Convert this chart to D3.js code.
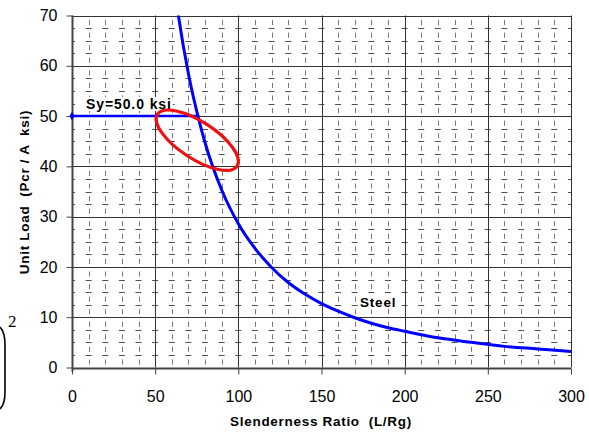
<!DOCTYPE html>
<html><head><meta charset="utf-8">
<script src="https://cdn.jsdelivr.net/npm/d3@7"></script>
<style>body{margin:0;background:#fff}svg{display:block}text{white-space:pre}</style>
</head><body>
<svg id="c" width="589" height="433"></svg>
<script>
// Data
const xTicks = [0, 50, 100, 150, 200, 250, 300];
const yTicks = [0, 10, 20, 30, 40, 50, 60, 70];
const curveX = [62, 64, 70, 76, 80, 90, 100, 110, 120, 130, 140, 150, 160, 170, 180, 190, 200, 220, 240, 260, 280, 300];
const curveY = [74.5, 69.9, 58.4, 49.6, 44.7, 35.3, 28.6, 23.7, 19.9, 16.9, 14.6, 12.7, 11.2, 9.9, 8.8, 7.9, 7.2, 5.9, 5.0, 4.2, 3.7, 3.2];
const yieldX = [0, 76.5];
const yieldY = [50, 50];
const yieldLabel = "Sy=50.0 ksi";
const curveLabel = "Steel";
const xTitle = "Slenderness Ratio  (L/Rg)";
const yTitle = "Unit Load  (Pcr / A  ksi)";
const ellipseCenter = [75.3, 45.2];

const svg = d3.select("#c");
const x = d3.scaleLinear().domain([0, 300]).range([72, 571]);
const y = d3.scaleLinear().domain([0, 70]).range([367.5, 15.5]);
const font = "'Liberation Sans', Arial, sans-serif";

svg.append("defs").append("clipPath").attr("id", "clip")
  .append("rect").attr("x", x(0)).attr("y", y(70)).attr("width", x(300) - x(0)).attr("height", y(0) - y(70));

// Minor grid: horizontal dashed every 2.5, vertical dashed every 10
const g = svg.append("g");
const minorY = d3.range(2.5, 70, 2.5).filter(v => Math.abs(v % 10) > 0.01);
const minorX = d3.range(10, 300, 10).filter(v => v % 50 !== 0);
g.selectAll("line.mh").data(minorY).join("line")
  .attr("x1", x(0)).attr("x2", x(300)).attr("y1", d => Math.round(y(d)) + 0.5).attr("y2", d => Math.round(y(d)) + 0.5)
  .attr("stroke", "#505050").attr("stroke-width", 1)
  .attr("stroke-dasharray", "6,10.63").attr("stroke-dashoffset", 3);
g.selectAll("line.mv").data(minorX).join("line")
  .attr("x1", d => Math.round(x(d)) + 0.5).attr("x2", d => Math.round(x(d)) + 0.5).attr("y1", y(0)).attr("y2", y(70))
  .attr("stroke", "#777").attr("stroke-width", 1)
  .attr("stroke-dasharray", "5,7.57").attr("stroke-dashoffset", -3);

// Major grid
g.selectAll("line.Mh").data(yTicks.slice(1)).join("line")
  .attr("x1", x(0)).attr("x2", x(300)).attr("y1", d => Math.round(y(d)) + 0.5).attr("y2", d => Math.round(y(d)) + 0.5)
  .attr("stroke", "#333").attr("stroke-width", 1);
g.selectAll("line.Mv").data(xTicks.slice(1)).join("line")
  .attr("x1", d => Math.round(x(d)) + 0.5).attr("x2", d => Math.round(x(d)) + 0.5).attr("y1", y(0)).attr("y2", y(70))
  .attr("stroke", "#333").attr("stroke-width", 1);

// Axes
const xa = svg.append("g").attr("transform", `translate(0,${Math.round(y(0)) + 0.5})`)
  .call(d3.axisBottom(x).tickValues(xTicks).tickSize(6).tickPadding(16).tickSizeOuter(0));
const ya = svg.append("g").attr("transform", `translate(${Math.round(x(0)) + 0.5},0)`)
  .call(d3.axisLeft(y).tickValues(yTicks).tickSize(6).tickPadding(9).tickSizeOuter(0));
[xa, ya].forEach(a => {
  a.select(".domain").attr("stroke", "#444").attr("stroke-width", 2);
  a.selectAll(".tick line").attr("stroke", "#444");
  a.selectAll("text").attr("font-family", font).attr("font-size", 16).attr("fill", "#000");
});
xa.select(".domain").attr("d", `M${x(0)},0H${x(300)}`);
ya.select(".domain").attr("d", `M0,${y(0) + 4}V${y(70)}`);

// Labels helper
const bold = (sel, size, ls) => sel.attr("font-family", font).attr("font-weight", "bold")
  .attr("font-size", size).attr("letter-spacing", ls);
function boxedLabel(txt, px, py, size, ls) {
  const grp = svg.append("g");
  const r = grp.append("rect").attr("fill", "#fff");
  const t = bold(grp.append("text").attr("x", px).attr("y", py).text(txt), size, ls);
  const b = t.node().getBBox();
  r.attr("x", b.x - 1).attr("y", b.y + 1).attr("width", b.width + 2).attr("height", b.height - 2);
  return grp;
}

// Curve
const line = d3.line().x(d => x(d[0])).y(d => y(d[1])).curve(d3.curveMonotoneX);
boxedLabel(curveLabel, 360, 307, 13.5, 0.8);
svg.append("path").attr("clip-path", "url(#clip)")
  .datum(curveX.map((v, i) => [v, curveY[i]]))
  .attr("d", line).attr("fill", "none").attr("stroke", "#0000ff").attr("stroke-width", 3);
boxedLabel(yieldLabel, 86, 109, 14, 0.9);
svg.append("path")
  .datum(yieldX.map((v, i) => [v, yieldY[i]]))
  .attr("d", d3.line().x(d => x(d[0])).y(d => y(d[1])))
  .attr("fill", "none").attr("stroke", "#0000ff").attr("stroke-width", 2.5);
svg.append("path").attr("d", d3.symbol(d3.symbolDiamond, 22)())
  .attr("transform", `translate(${x(0)},${y(50)})`).attr("fill", "#0000ff");

// Ellipse
svg.append("ellipse").attr("cx", 0).attr("cy", 0).attr("rx", 47.5).attr("ry", 18.5)
  .attr("transform", `translate(${x(ellipseCenter[0])},${y(ellipseCenter[1])}) rotate(33)`)
  .attr("fill", "none").attr("stroke", "#ee1111").attr("stroke-width", 3.2);

// Axis titles
bold(svg.append("text").attr("x", 321).attr("y", 426).attr("text-anchor", "middle").text(xTitle), 13.5, 0.7);
bold(svg.append("text").attr("transform", "translate(29,192) rotate(-90)").attr("text-anchor", "middle").text(yTitle), 13.5, 0.7);

// Fragment at bottom-left (bracket and exponent)
svg.append("path").attr("d", "M0,327 Q5,332 5,345 L5,392 Q5,404 0,409")
  .attr("fill", "none").attr("stroke", "#000").attr("stroke-width", 1.6);
svg.append("text").attr("x", 8).attr("y", 327).text("2")
  .attr("font-family", "'Liberation Serif', 'Times New Roman', serif").attr("font-size", 17);
</script>
</body></html>
